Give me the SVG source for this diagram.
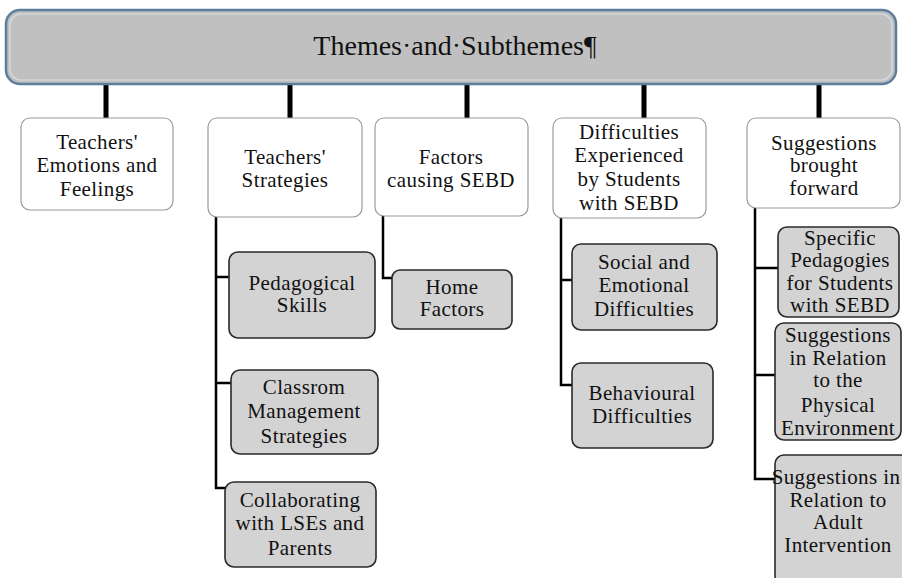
<svg xmlns="http://www.w3.org/2000/svg" width="902" height="578" viewBox="0 0 902 578" font-family="Liberation Serif, serif">
<style>
text{font-size:21px;fill:#111;text-anchor:middle;letter-spacing:0.4px}
.title{font-size:28px;letter-spacing:0}
.top{fill:#c0c0c0;stroke:#5d7d9e;stroke-width:2.5}
.inner{fill:none;stroke:#d8dde3;stroke-width:1.2}
.l1{fill:#fff;stroke:#9a9a9a;stroke-width:1.2}
.l2{fill:#d3d3d3;stroke:#2a2a2a;stroke-width:1.6}
.thick{stroke:#000;stroke-width:5;fill:none}
.thin{stroke:#000;stroke-width:2.5;fill:none}
</style>
<rect width="902" height="578" fill="#fff"/>
<g id="connectors">
<path class="thick" d="M106 83V118M290 83V118M467 83V118M644 83V118M819 83V118"/>
<path class="thin" d="M216 217V488H226M216 277H229M216 383H231"/>
<path class="thin" d="M383 216V278H392"/>
<path class="thin" d="M561 218V385H572M561 280H572"/>
<path class="thin" d="M755 208V479H775M755 268H778M755 375H775"/>
</g>
<g id="root"><rect class="top" x="6" y="10" width="890" height="74" rx="14"/><rect class="inner" x="10" y="14" width="882" height="66" rx="11"/><text class="title" x="455" y="55">Themes·and·Subthemes¶</text></g>
<g id="n1"><rect class="l1" x="21" y="118" width="152" height="92" rx="9"/><text x="97" y="149">Teachers'</text><text x="97" y="172">Emotions and</text><text x="97" y="196">Feelings</text></g>
<g id="n2"><rect class="l1" x="208" y="118" width="154" height="99" rx="9"/><text x="285" y="164">Teachers'</text><text x="285" y="187">Strategies</text></g>
<g id="n3"><rect class="l1" x="375" y="118" width="153" height="98" rx="9"/><text x="451" y="164">Factors</text><text x="451" y="187">causing SEBD</text></g>
<g id="n4"><rect class="l1" x="553" y="118" width="153" height="100" rx="9"/><text x="629" y="139">Difficulties</text><text x="629" y="162">Experienced</text><text x="629" y="186">by Students</text><text x="629" y="210">with SEBD</text></g>
<g id="n5"><rect class="l1" x="747" y="118" width="153" height="90" rx="9"/><text x="824" y="150">Suggestions</text><text x="824" y="172">brought</text><text x="824" y="195">forward</text></g>
<g id="n2a"><rect class="l2" x="229" y="252" width="146" height="86" rx="9"/><text x="302" y="290">Pedagogical</text><text x="302" y="312">Skills</text></g>
<g id="n2b"><rect class="l2" x="231" y="370" width="147" height="84" rx="9"/><text x="304" y="394">Classrom</text><text x="304" y="418">Management</text><text x="304" y="443">Strategies</text></g>
<g id="n2c"><rect class="l2" x="225" y="482" width="151" height="85" rx="9"/><text x="300" y="507">Collaborating</text><text x="300" y="530">with LSEs and</text><text x="300" y="555">Parents</text></g>
<g id="n3a"><rect class="l2" x="392" y="270" width="120" height="59" rx="8"/><text x="452" y="294">Home</text><text x="452" y="316">Factors</text></g>
<g id="n4a"><rect class="l2" x="572" y="244" width="145" height="86" rx="9"/><text x="644" y="269">Social and</text><text x="644" y="292">Emotional</text><text x="644" y="316">Difficulties</text></g>
<g id="n4b"><rect class="l2" x="572" y="363" width="141" height="85" rx="9"/><text x="642" y="400">Behavioural</text><text x="642" y="423">Difficulties</text></g>
<g id="n5a"><rect class="l2" x="778" y="227" width="121" height="90" rx="9"/><text x="840" y="245">Specific</text><text x="840" y="267">Pedagogies</text><text x="840" y="290">for Students</text><text x="840" y="312">with SEBD</text></g>
<g id="n5b"><rect class="l2" x="775" y="323" width="126" height="117" rx="9"/><text x="838" y="342">Suggestions</text><text x="838" y="365">in Relation</text><text x="838" y="387">to the</text><text x="838" y="412">Physical</text><text x="838" y="435">Environment</text></g>
<g id="n5c"><rect class="l2" x="775" y="455" width="135" height="130" rx="9"/><text x="836" y="484">Suggestions in</text><text x="838" y="507">Relation to</text><text x="838" y="529">Adult</text><text x="838" y="552">Intervention</text></g>
</svg>
